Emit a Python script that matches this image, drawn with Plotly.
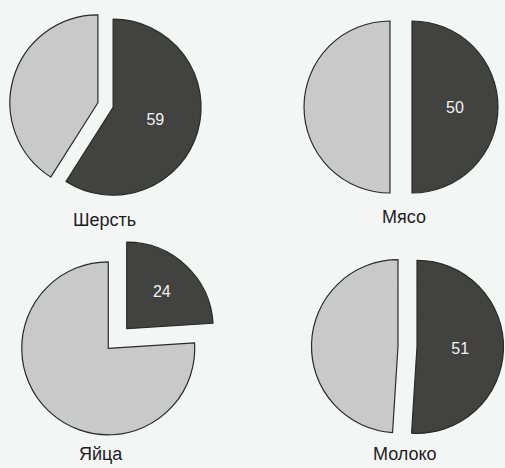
import plotly.graph_objects as go

# Data
categories = ["Шерсть", "Мясо", "Яйца", "Молоко"]
dark_values = [59, 50, 24, 51]
light_values = [100 - v for v in dark_values]

# layout helpers (pixel geometry of each pie)
W, H = 505, 468
centers = [(105.5, 105.0), (401.0, 107.0), (117.5, 338.5), (407.5, 346.5)]
radii = [88, 86, 86.5, 86.5]
pulls = [0.09, 0.128, 0.156, 0.11]
label_pos = [(104, 220), (404, 217), (101, 454), (405, 454)]

DARK = "#424241"
LIGHT = "#c9c9c9"
LINE = "#2a2a2a"

fig = go.Figure()
for i, name in enumerate(categories):
    cx, cy = centers[i]
    r = radii[i]
    p = pulls[i]
    half = r * (1 + p)
    dom_x = [max(0, (cx - half) / W), min(1, (cx + half) / W)]
    dom_y = [1 - (cy + half) / H, 1 - (cy - half) / H]
    fig.add_trace(go.Pie(
        values=[dark_values[i], light_values[i]],
        labels=[name + " A", name + " B"],
        text=[str(dark_values[i]), ""],
        textinfo="text",
        textposition="inside",
        insidetextorientation="horizontal",
        textfont=dict(family="Liberation Sans, Arial, sans-serif", size=16, color="#f2f2f2"),
        sort=False,
        direction="clockwise",
        rotation=0,
        pull=[p, p],
        marker=dict(colors=[DARK, LIGHT], line=dict(color=LINE, width=1.2)),
        domain=dict(x=dom_x, y=dom_y),
        showlegend=False,
        hoverinfo="skip",
    ))

annotations = []
for i, name in enumerate(categories):
    lx, ly = label_pos[i]
    annotations.append(dict(
        x=lx / W, y=1 - ly / H, xref="paper", yref="paper",
        text=name, showarrow=False,
        font=dict(family="Liberation Sans, Arial, sans-serif", size=18, color="#1e1e1e"),
        xanchor="center", yanchor="middle",
    ))

fig.update_layout(
    width=W, height=H,
    margin=dict(l=0, r=0, t=0, b=0),
    paper_bgcolor="#f4f5f5",
    plot_bgcolor="#f4f5f5",
    annotations=annotations,
)

fig.write_html(
    "out.html",
    config={"displayModeBar": False},
    post_script="document.body.style.margin='0';document.body.style.overflow='hidden';",
)
